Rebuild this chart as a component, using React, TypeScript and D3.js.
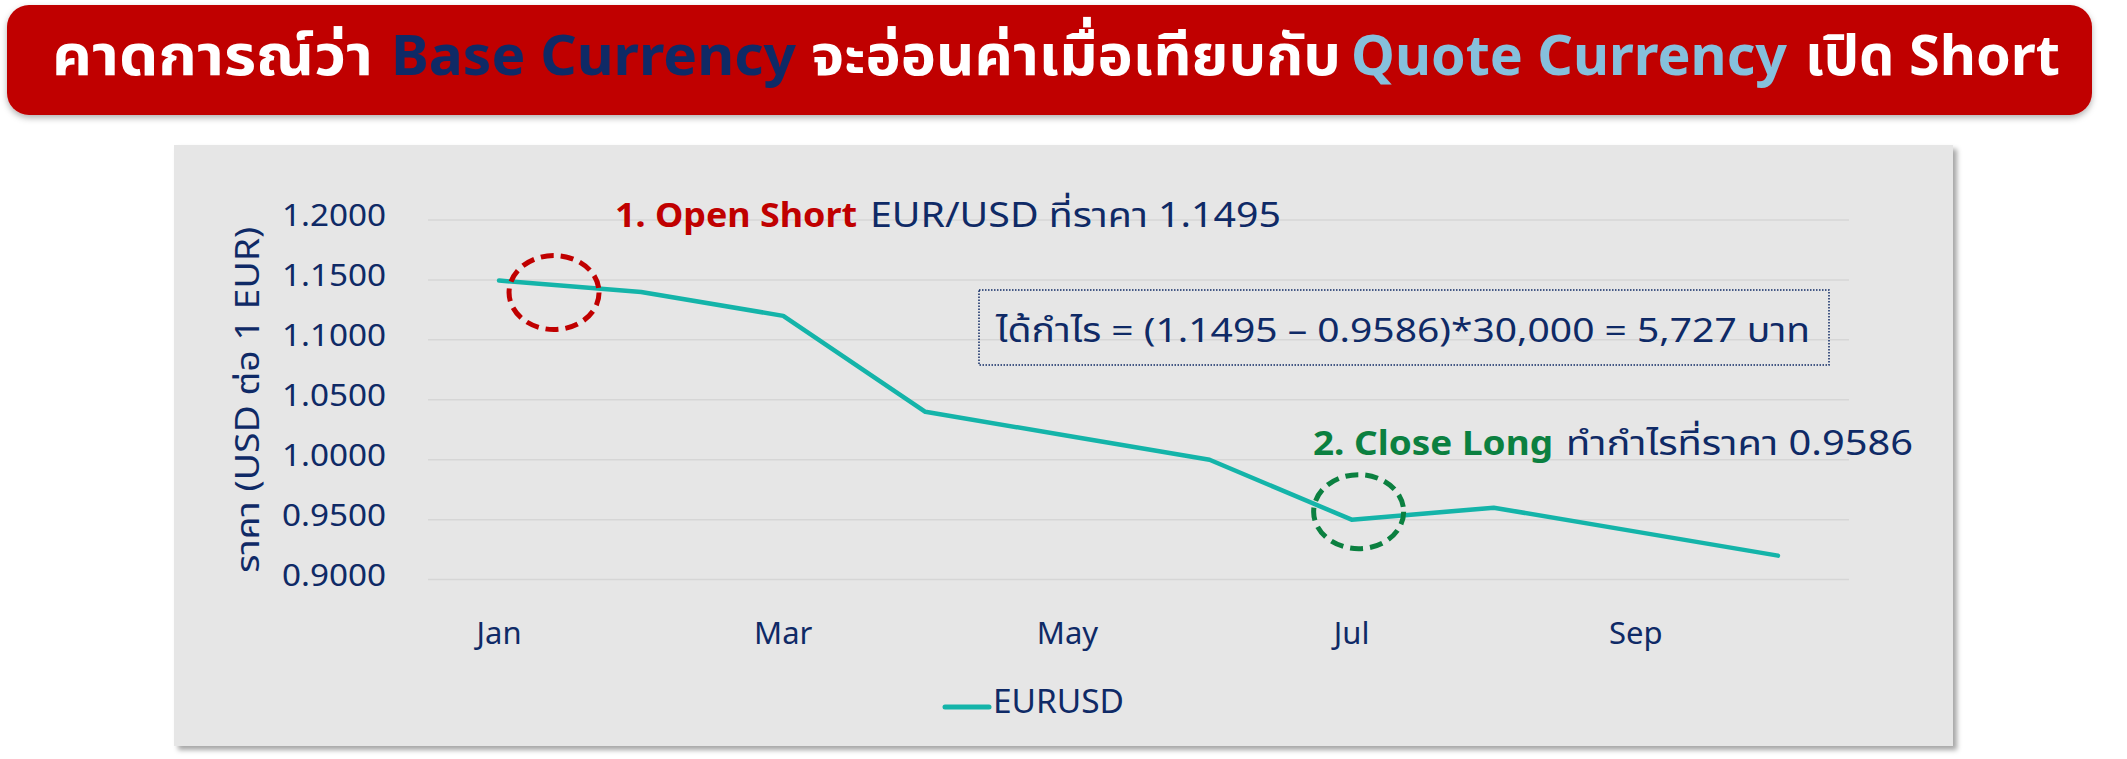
import React from "react";
import * as d3 from "d3";

const months = ["Jan", "Feb", "Mar", "Apr", "May", "Jun", "Jul", "Aug", "Sep", "Oct"];
const eurusd = [1.1495, 1.14, 1.12, 1.04, 1.02, 1.0, 0.95, 0.96, 0.94, 0.92];
const xTickLabels = ["Jan", "Mar", "May", "Jul", "Sep"];
const yTicks = [0.9, 0.95, 1.0, 1.05, 1.1, 1.15, 1.2];
const seriesName = "EURUSD";
const yAxisTitle = "ราคา (USD ต่อ 1 EUR)";
const openShortMonth = "Jan";
const closeLongMonth = "Jul";
const entryPrice = 1.1495;
const exitPrice = 0.9586;
const lotUnits = 30000;

const NAVY = "#0f2a66";
const RED = "#c00000";
const GREEN = "#0b8040";
const TEAL = "#14b4a9";
const LIGHTBLUE = "#86c0dc";
const FONT = "'Noto Sans', 'Noto Sans Thai', Tahoma, sans-serif";

type Seg = { t: string; x: number; w: number; fill: string };

const titleSegs: Seg[] = [
  { t: "คาดการณ์ว่า", x: 52, w: 321, fill: "#ffffff" },
  { t: "Base Currency", x: 391, w: 405, fill: NAVY },
  { t: "จะอ่อนค่าเมื่อเทียบกับ", x: 811, w: 530, fill: "#ffffff" },
  { t: "Quote Currency", x: 1351, w: 436, fill: LIGHTBLUE },
  { t: "เปิด Short", x: 1805, w: 255, fill: "#ffffff" },
];

export default function App() {
  const W = 2127, H = 759;
  const plot = { left: 428, right: 1849, top: 220, bottom: 579.6 };
  const x = d3.scaleBand<string>().domain(months).range([plot.left, plot.right]).padding(0);
  const cx = (m: string) => (x(m) as number) + x.bandwidth() / 2;
  const y = d3.scaleLinear().domain([0.9, 1.2]).range([plot.bottom, plot.top]);
  const line = d3.line<number>().x((_, i) => cx(months[i])).y((d) => y(d));
  const fmt = d3.format(".4f");

  const iOpen = months.indexOf(openShortMonth);
  const iClose = months.indexOf(closeLongMonth);
  const profit = Math.round((entryPrice - exitPrice) * lotUnits);

  return (
    <svg width={W} height={H} style={{ position: "absolute", left: 0, top: 0, display: "block" }} fontFamily={FONT}>
      <defs>
        <filter id="panelShadow" x="-5%" y="-5%" width="110%" height="115%">
          <feDropShadow dx="4" dy="4" stdDeviation="2.5" floodColor="#000" floodOpacity="0.35" />
        </filter>
        <filter id="bannerShadow" x="-5%" y="-20%" width="110%" height="150%">
          <feDropShadow dx="0" dy="3" stdDeviation="3" floodColor="#000" floodOpacity="0.3" />
        </filter>
      </defs>
      <rect x={0} y={0} width={W} height={H} fill="#ffffff" />
      {/* banner */}
      <rect x={7} y={5} width={2085} height={110} rx={22} ry={22} fill={RED} filter="url(#bannerShadow)" />
      {titleSegs.map((s) => (
        <text key={s.t} x={s.x} y={75} fontSize={56} fontWeight={700} fill={s.fill} textLength={s.w} lengthAdjust="spacingAndGlyphs">
          {s.t}
        </text>
      ))}

      {/* panel */}
      <rect x={174} y={145} width={1779} height={601} fill="#e6e6e6" filter="url(#panelShadow)" />

      {/* gridlines */}
      {yTicks.map((t) => (
        <line key={"g" + t} x1={plot.left} x2={plot.right} y1={y(t)} y2={y(t)} stroke="#d6d6d6" strokeWidth={1.5} />
      ))}
      {/* y tick labels */}
      {yTicks.map((t) => (
        <text key={"yl" + t} x={386} y={y(t) + 6} fontSize={31} fill={NAVY} textAnchor="end" textLength={104} lengthAdjust="spacingAndGlyphs">
          {fmt(t)}
        </text>
      ))}
      {/* x tick labels */}
      {xTickLabels.map((m) => (
        <text key={"xl" + m} x={cx(m)} y={644} fontSize={31} fill={NAVY} textAnchor="middle">
          {m}
        </text>
      ))}
      {/* y axis title */}
      <text transform={`translate(259,${(plot.top + plot.bottom) / 2}) rotate(-90)`} fontSize={32} fill={NAVY} textAnchor="middle" textLength={346} lengthAdjust="spacingAndGlyphs">
        {yAxisTitle}
      </text>

      {/* series line */}
      <path d={line(eurusd) || ""} fill="none" stroke={TEAL} strokeWidth={4.5} strokeLinejoin="round" strokeLinecap="round" />

      {/* annotation ellipses */}
      <ellipse cx={cx(months[iOpen]) + 55} cy={y(eurusd[iOpen]) + 12} rx={45} ry={37} fill="none" stroke={RED} strokeWidth={5} strokeDasharray="13 7" />
      <ellipse cx={cx(months[iClose]) + 7} cy={y(eurusd[iClose]) - 8} rx={45} ry={37} fill="none" stroke={GREEN} strokeWidth={5} strokeDasharray="13 7" />

      {/* annotation 1 */}
      <text x={615} y={227} fontSize={34} fontWeight={700} fill={RED} textLength={242} lengthAdjust="spacingAndGlyphs">
        1. Open Short
      </text>
      <text x={870} y={227} fontSize={34} fill={NAVY} textLength={411} lengthAdjust="spacingAndGlyphs">
        {`EUR/USD ที่ราคา ${entryPrice.toFixed(4)}`}
      </text>
      {/* profit box */}
      <rect x={979} y={290} width={850} height={75} fill="none" stroke={NAVY} strokeWidth={1.5} strokeDasharray="1.5 1.5" />
      <text x={996} y={342} fontSize={33} fill={NAVY} textLength={814} lengthAdjust="spacingAndGlyphs">
        {`ได้กำไร = (${entryPrice.toFixed(4)} – ${exitPrice.toFixed(4)})*${d3.format(",")(lotUnits)} = ${d3.format(",")(profit)} บาท`}
      </text>
      {/* annotation 2 */}
      <text x={1313} y={455} fontSize={34} fontWeight={700} fill={GREEN} textLength={240} lengthAdjust="spacingAndGlyphs">
        2. Close Long
      </text>
      <text x={1566} y={455} fontSize={34} fill={NAVY} textLength={347} lengthAdjust="spacingAndGlyphs">
        {`ทำกำไรที่ราคา ${exitPrice.toFixed(4)}`}
      </text>

      {/* legend */}
      <line x1={945} x2={989} y1={707} y2={707} stroke={TEAL} strokeWidth={5} strokeLinecap="round" />
      <text x={993} y={713} fontSize={32} fill={NAVY} textLength={131} lengthAdjust="spacingAndGlyphs">
        {seriesName}
      </text>
    </svg>
  );
}
